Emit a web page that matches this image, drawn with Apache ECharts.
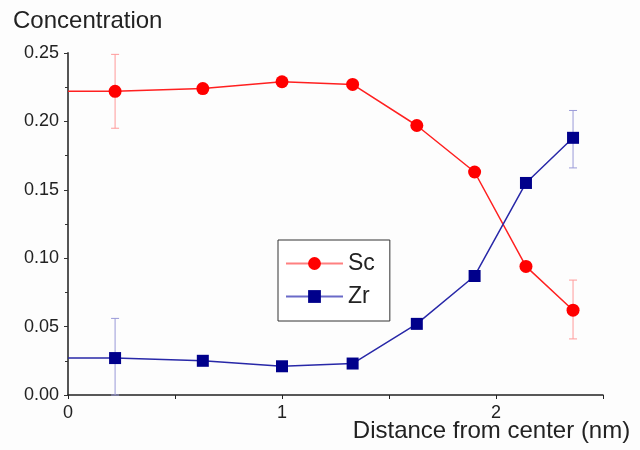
<!DOCTYPE html>
<html>
<head>
<meta charset="utf-8">
<script src="https://cdn.jsdelivr.net/npm/echarts@6/dist/echarts.min.js"></script>
<style>html,body{margin:0;padding:0;background:#fdfdfd;}#c{width:640px;height:450px;}</style>
</head>
<body>
<div id="c"></div>
<script>
// Distance from center (nm); first entry is the line start at the axis (no marker)
const xPos = [0, 0.22, 0.63, 1.00, 1.33, 1.63, 1.90, 2.14, 2.36];
const scValues = [0.222, 0.222, 0.224, 0.229, 0.227, 0.197, 0.163, 0.094, 0.062];
const zrValues = [0.027, 0.027, 0.025, 0.021, 0.023, 0.052, 0.087, 0.155, 0.188];
// error bars
const errX = [0.22, 2.36];
const scErrLow = [0.195, 0.041];
const scErrHigh = [0.249, 0.084];
const zrErrLow = [0.000, 0.166];
const zrErrHigh = [0.056, 0.208];
const yTicks = [0, 0.05, 0.10, 0.15, 0.20, 0.25];
const xTickLabels = ['0', '1', '2'];

const font = 'Liberation Sans, Arial, sans-serif';

function lineData(vals) {
  return xPos.map((x, i) => i === 0
    ? { value: [x, vals[i]], symbol: 'none' }
    : { value: [x, vals[i]] });
}
function errData(low, high) {
  return errX.map((x, i) => [x, low[i], high[i]]);
}
function errRender(color) {
  return function (params, api) {
    const x = api.value(0);
    const lo = api.coord([x, api.value(1)]);
    const hi = api.coord([x, api.value(2)]);
    const w = 4;
    const style = { stroke: color, lineWidth: 1 };
    return {
      type: 'group',
      children: [
        { type: 'line', shape: { x1: lo[0], y1: lo[1], x2: hi[0], y2: hi[1] }, style },
        { type: 'line', shape: { x1: lo[0] - w, y1: lo[1], x2: lo[0] + w, y2: lo[1] }, style },
        { type: 'line', shape: { x1: hi[0] - w, y1: hi[1], x2: hi[0] + w, y2: hi[1] }, style }
      ]
    };
  };
}

const chart = echarts.init(document.getElementById('c'), null, { renderer: 'canvas' });
chart.setOption({
  backgroundColor: '#fdfdfd',
  animation: false,
  grid: { left: 68, right: 37, top: 53, bottom: 55, containLabel: false, outerBoundsMode: 'none' },
  xAxis: {
    type: 'value', min: 0, max: 2.5, interval: 0.5,
    name: 'Distance from center (nm)', nameLocation: 'middle', nameGap: 24, nameMoveOverlap: false,
    nameTextStyle: { fontFamily: font, fontSize: 24, color: '#222', align: 'center', verticalAlign: 'top', padding: [0, 0, 0, 312] },
    axisLine: { show: true, lineStyle: { color: '#222', width: 1.5 } },
    axisTick: { show: true, length: 4, lineStyle: { color: '#222' } },
    splitLine: { show: false },
    axisLabel: {
      fontFamily: font, fontSize: 18, color: '#222', margin: 9,
      formatter: v => (Math.abs(v - Math.round(v)) < 1e-9 && xTickLabels.includes(String(Math.round(v)))) ? String(Math.round(v)) : ''
    }
  },
  yAxis: {
    type: 'value', min: 0, max: 0.25, interval: 0.05,
    name: 'Concentration', nameLocation: 'end', nameGap: 20, nameMoveOverlap: false,
    nameTextStyle: { fontFamily: font, fontSize: 24, color: '#222', align: 'left', padding: [0, 0, 0, -55] },
    axisLine: { show: true, lineStyle: { color: '#555', width: 2 } },
    axisTick: { show: true, length: 4, lineStyle: { color: '#333' } },
    minorTick: { show: true, splitNumber: 2, length: 3, lineStyle: { color: '#333' } },
    splitLine: { show: false },
    axisLabel: {
      fontFamily: font, fontSize: 18, color: '#222', margin: 9,
      formatter: v => yTicks.some(t => Math.abs(t - v) < 1e-9) ? v.toFixed(2) : ''
    }
  },
  legend: {
    data: [
      { name: 'Sc', lineStyle: { color: '#ff8080' } },
      { name: 'Zr', lineStyle: { color: '#6a6ac8' } }
    ],
    orient: 'vertical', left: 278, top: 240,
    itemWidth: 57, itemHeight: 16, itemGap: 10,
    padding: [12, 15, 13, 7],
    borderColor: '#333', borderWidth: 1, backgroundColor: '#fff',
    textStyle: { fontFamily: font, fontSize: 23, color: '#222', lineHeight: 20 }
  },
  series: [
    {
      name: 'Sc', type: 'line', data: lineData(scValues),
      symbol: 'circle', symbolSize: 13,
      lineStyle: { color: '#ff2020', width: 1.5 },
      itemStyle: { color: '#ff0000' }, z: 3
    },
    {
      name: 'Zr', type: 'line', data: lineData(zrValues),
      symbol: 'rect', symbolSize: 12,
      lineStyle: { color: '#2828a8', width: 1.5 },
      itemStyle: { color: '#00008b' }, z: 3
    },
    {
      name: 'Sc error', type: 'custom', data: errData(scErrLow, scErrHigh),
      renderItem: errRender('#ff9a9a'), encode: { x: 0, y: [1, 2] }, z: 2, silent: true
    },
    {
      name: 'Zr error', type: 'custom', data: errData(zrErrLow, zrErrHigh),
      renderItem: errRender('#9a9ad8'), encode: { x: 0, y: [1, 2] }, z: 2, silent: true
    }
  ]
});
</script>
</body>
</html>
